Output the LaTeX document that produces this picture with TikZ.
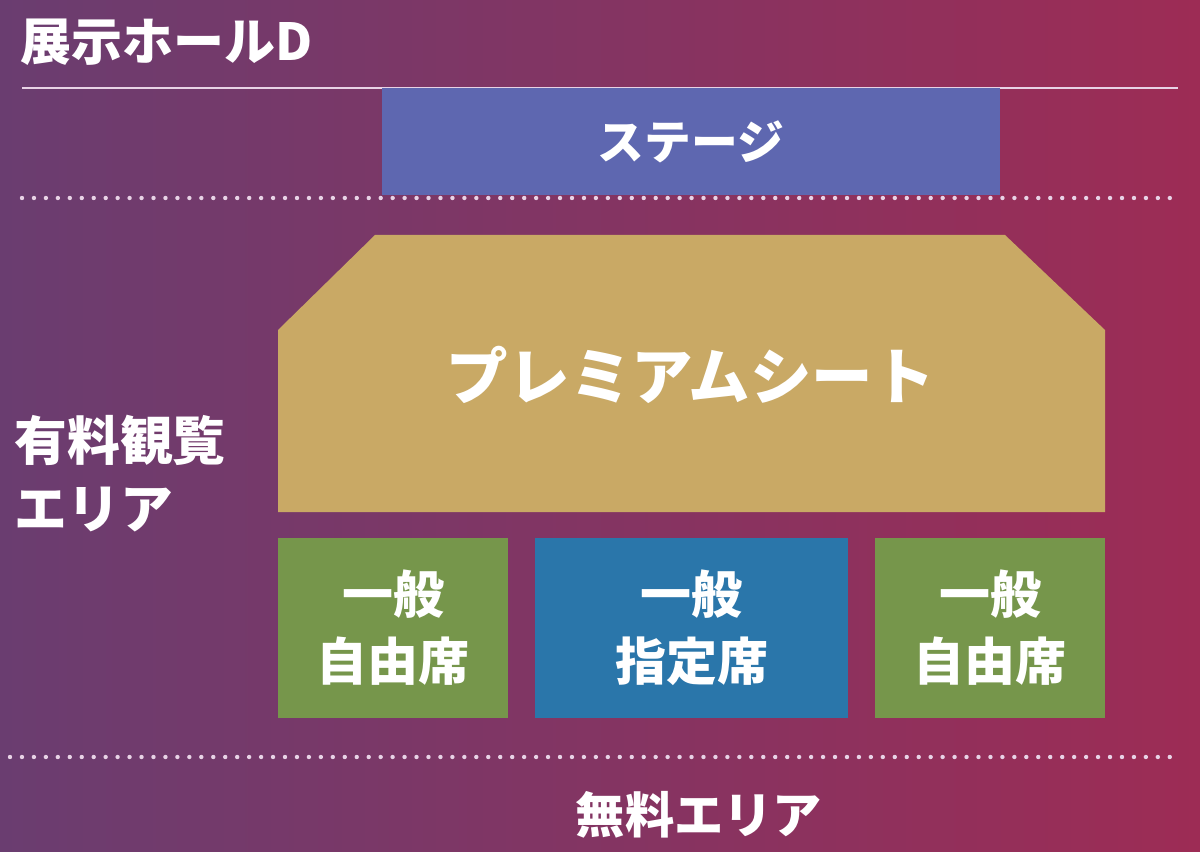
\documentclass[tikz,border=0pt]{standalone}
\usepackage{fontspec}
\setmainfont{Noto Sans CJK JP}
\usepackage{xcolor}
\usepackage{tikz}
\usetikzlibrary{positioning, calc}

\definecolor{bgleft}{HTML}{6A3D70}
\definecolor{bgright}{HTML}{9D2C55}
\definecolor{stagec}{HTML}{5E67B0}
\definecolor{premc}{HTML}{C9A965}
\definecolor{freec}{HTML}{76964B}
\definecolor{resc}{HTML}{2A76AA}
\definecolor{linec}{HTML}{E8D3E6}

\tikzset{
  %% Seat block
  seat/.style={
    rectangle, fill=#1, text=white,
    align=center, inner sep=0pt,
    minimum height=1.8cm,
    font=\bfseries\fontsize{14.5}{19}\selectfont
  },
  seat/.default=freec,
  %% White labels
  lbl/.style={text=white, inner sep=0pt,
              font=\bfseries\fontsize{#1}{20}\selectfont},
  lbl/.default=14,
  %% Dotted separator
  dotline/.style={draw=linec, line width=1.25pt, line cap=round,
                  dash pattern=on 0pt off 3.4pt},
}

\begin{document}
\begin{tikzpicture}[x=0.01cm, y=-0.01cm]
  %% Background
  \fill[left color=bgleft, right color=bgright] (0,0) rectangle (1200,852);
  \useasboundingbox (0,0) rectangle (1200,852);

  %% Hall title and line
  \node[lbl=14.5, anchor=west] (hall) at (20,42) {展示ホールD};
  \draw[linec, line width=0.6pt] (22,88) -- (1178,88);

  %% Stage
  \node[seat=stagec, minimum width=6.18cm, minimum height=1.07cm,
        font=\bfseries\fontsize{13.3}{16}\selectfont]
       (stage) at (691,141.5) {ステージ};
  \draw[dotline] (22,198) -- (1178,198);

  %% Premium seats
  \fill[premc] (375,235) -- (1005,235) -- (1105,330) -- (1105,512)
       -- (278,512) -- (278,330) -- cycle;
  \node[lbl=17.5] (prem) at (691,375) {プレミアムシート};

  %% Paid area label
  \node[lbl=15, anchor=west, align=left,
        font=\bfseries\fontsize{15}{19.3}\selectfont]
       (paid) at (14,474) {有料観覧\\エリア};

  %% General seats
  \node[seat, minimum width=2.3cm]          (gl) at (393,628) {一般\\自由席};
  \node[seat=resc, minimum width=3.13cm]    (gc) at (691.5,628) {一般\\指定席};
  \node[seat, minimum width=2.3cm]          (gr) at (990,628) {一般\\自由席};

  %% Free area
  \draw[dotline] (10,757) -- (1178,757);
  \node[lbl=14] (free) at (699,815) {無料エリア};
\end{tikzpicture}
\end{document}
